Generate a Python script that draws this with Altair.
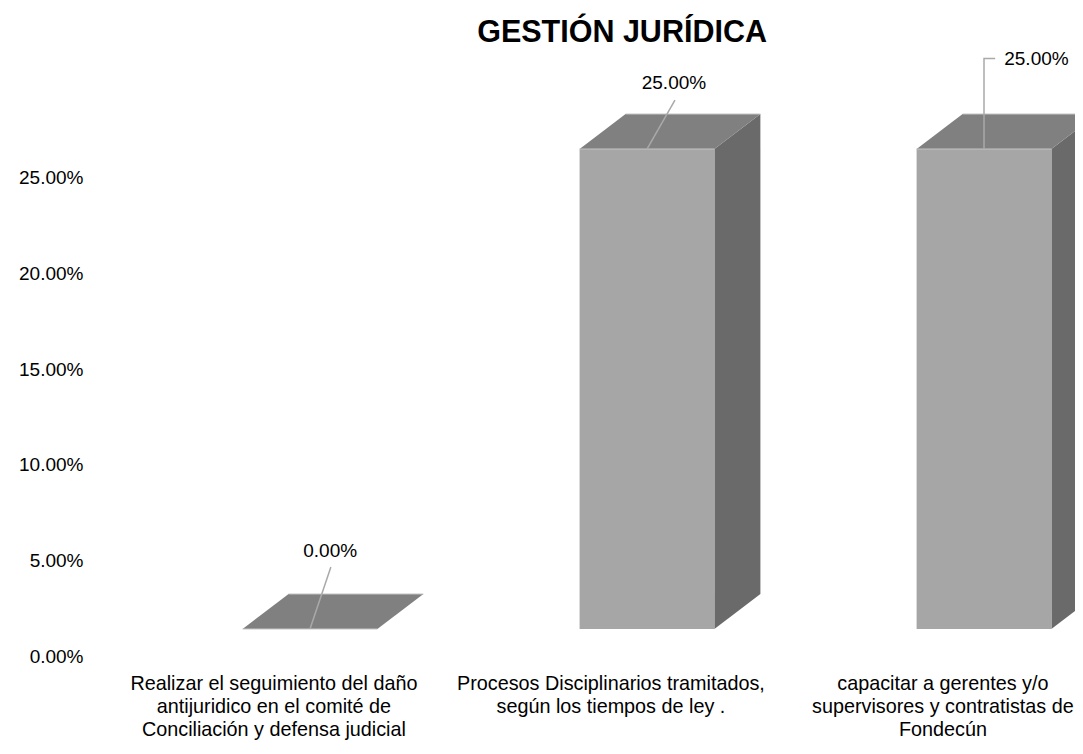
import altair as alt
import pandas as pd

# ---- data ----
title_text = "GESTIÓN JURÍDICA"
categories = [
    "Realizar el seguimiento del daño\nantijuridico en el comité de\nConciliación y defensa judicial",
    "Procesos  Disciplinarios tramitados,\nsegún los tiempos de ley .",
    "capacitar a gerentes y/o\nsupervisores y contratistas de\nFondecún",
]
values = [0.0, 25.0, 25.0]          # percent
y_ticks = [0, 5, 10, 15, 20, 25]

# value-label anchors (data units: x = category index, y = percent)
label_x = [0.06, 1.08, 2.06]
label_y = [4.06, 28.46, 29.71]
label_align = ["center", "center", "left"]
leader_x = [[0.062, 0.0], [1.083, 1.0], [2.033, 2.0, 2.0]]
leader_y = [[3.23, 0.0], [27.55, 25.0], [29.71, 29.71, 25.0]]
cat_label_x = [-0.107, 0.893, 1.878]
cat_label_y = -3.2
title_x, title_y = 0.926, 30.57

# ---- geometry / style ----
HALF = 0.2      # half bar width (x units)
DX = 0.1365     # 3D depth, x
DY = 1.823      # 3D depth, y
FONT = "Liberation Sans"
FRONT, TOP, SIDE, LEAD, EDGE = "#a6a6a6", "#808080", "#6a6a6a", "#a9a9a9", "#c4c4c4"

front_rows, top_rows, side_rows = [], [], []
for i, v in enumerate(values):
    front_rows.append({"bar": i, "x": i - HALF, "x2": i + HALF, "y": 0.0, "y2": v})
    top_rows.append({"bar": i, "y": v, "x": i - HALF, "x2": i + HALF})
    top_rows.append({"bar": i, "y": v + DY, "x": i - HALF + DX, "x2": i + HALF + DX})
    side_rows.append({"bar": i, "x": i + HALF, "y": 0.0, "y2": v})
    side_rows.append({"bar": i, "x": i + HALF + DX, "y": DY, "y2": v + DY})

lead_rows = []
for i, (xs_, ys_) in enumerate(zip(leader_x, leader_y)):
    for k, (a, b) in enumerate(zip(xs_, ys_)):
        lead_rows.append({"bar": i, "k": k, "x": a, "y": b})

labels = pd.DataFrame({
    "x": label_x, "y": label_y, "align": label_align,
    "text": [f"{v:.2f}%" for v in values],
})
cats = pd.DataFrame({"x": cat_label_x, "y": [cat_label_y] * 3, "text": categories})
title_df = pd.DataFrame({"x": [title_x], "y": [title_y], "text": [title_text]})

xs = alt.Scale(domain=[-0.629, 2.270], nice=False, zero=False)
ys = alt.Scale(domain=[-6.094, 32.344], nice=False, zero=False)
yaxis = alt.Axis(values=y_ticks, labelExpr="format(datum.value, '.2f') + '%'",
                 domain=False, ticks=False, grid=False, title=None,
                 labelFont=FONT, labelFontSize=19, labelColor="#000000",
                 labelPadding=15, labelOffset=28)

X = lambda f="x": alt.X(f"{f}:Q", scale=xs, axis=None)
Y = lambda f="y": alt.Y(f"{f}:Q", scale=ys, axis=yaxis)

side = alt.Chart(pd.DataFrame(side_rows)).mark_area(orient="vertical", color=SIDE).encode(
    x=X(), y=Y(), y2="y2:Q", detail="bar:N")
top = alt.Chart(pd.DataFrame(top_rows)).mark_area(orient="horizontal", color=TOP).encode(
    y=Y(), x=X(), x2="x2:Q", detail="bar:N")
front = alt.Chart(pd.DataFrame(front_rows)).mark_rect(color=FRONT).encode(
    x=X(), x2="x2:Q", y=Y(), y2="y2:Q")
edges = alt.Chart(pd.DataFrame(top_rows)).mark_rule(color=EDGE, strokeWidth=1).encode(
    x=X(), x2="x2:Q", y=Y())
lead = alt.Chart(pd.DataFrame(lead_rows)).mark_line(color=LEAD, strokeWidth=1.5).encode(
    x=X(), y=Y(), detail="bar:N", order="k:Q")
vlab_c = alt.Chart(labels).transform_filter("datum.align == 'center'").mark_text(
    font=FONT, fontSize=19, color="#000000", baseline="middle", align="center").encode(
    x=X(), y=Y(), text="text:N")
vlab_l = alt.Chart(labels).transform_filter("datum.align == 'left'").mark_text(
    font=FONT, fontSize=19, color="#000000", baseline="middle", align="left").encode(
    x=X(), y=Y(), text="text:N")
clabels = alt.Chart(cats).mark_text(font=FONT, fontSize=19.8, color="#000000",
                                    baseline="alphabetic", align="center",
                                    lineBreak="\n", lineHeight=23).encode(
    x=X(), y=Y(), text="text:N")
ttl = alt.Chart(title_df).mark_text(font=FONT, fontSize=30.5, fontWeight="bold",
                                    color="#000000", baseline="alphabetic",
                                    align="center").encode(
    x=X(), y=Y(), text="text:N")

chart = alt.layer(side, top, front, edges, lead, vlab_c, vlab_l, clabels, ttl).properties(
    width=977, height=738,
    autosize=alt.AutoSizeParams(type="none"),
    padding={"left": 90, "top": 0, "right": 0, "bottom": 0},
).configure_view(stroke=None)

chart.save("out.html", embed_options={"renderer": "svg", "actions": False})
